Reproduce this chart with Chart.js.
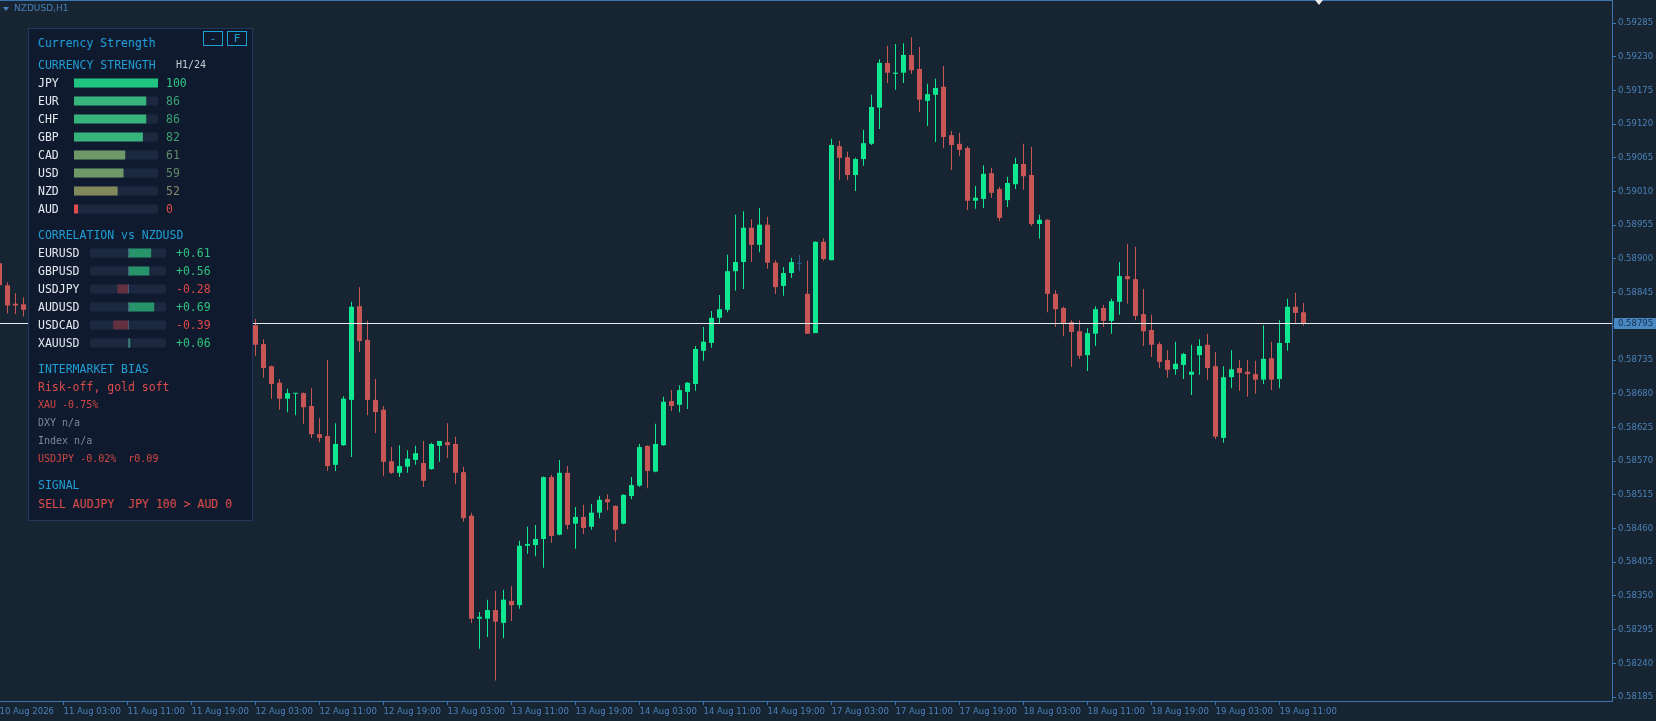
<!DOCTYPE html>
<html>
<head>
<meta charset="utf-8">
<title>NZDUSD,H1</title>
<script src="https://cdn.jsdelivr.net/npm/chart.js@4.4.1/dist/chart.umd.min.js"></script>
<style>
  html, body { margin: 0; padding: 0; background: #172432; overflow: hidden; }
  #wrap { position: relative; width: 1656px; height: 721px; }
  #main { position: absolute; left: 0; top: 0; }
  .hdr { position: absolute; left: 14px; top: 2px; font: 9px 'DejaVu Sans', sans-serif; line-height: 12px; color: #4a80b8; }
  .hdr-tri { position: absolute; left: 3px; top: 7px; width: 0; height: 0;
             border-left: 3px solid transparent; border-right: 3px solid transparent; border-top: 4px solid #4a80b8; }
  .shift { position: absolute; left: 1315px; top: 0; width: 0; height: 0;
           border-left: 4px solid transparent; border-right: 4px solid transparent; border-top: 5px solid #e8eaee; }
  .panel { position: absolute; left: 28px; top: 28px; width: 225px; height: 493px; box-sizing: border-box;
           background: #101a2e; border: 1px solid #22365e; }
  .pt { position: absolute; white-space: pre; font-family: 'DejaVu Sans Mono', monospace; font-size: 11.5px;
        line-height: 14px; height: 14px; }
  .btn { position: absolute; box-sizing: border-box; width: 20px; height: 15px; border: 1px solid #1f9fd4;
         color: #1f9fd4; font: 11px 'DejaVu Sans Mono', monospace; line-height: 13px; text-align: center; }
  .mini { position: absolute; }
</style>
</head>
<body>
<div id="wrap">
  <canvas id="main" width="1656" height="721"></canvas>
  <div class="hdr-tri"></div>
  <div class="hdr">NZDUSD,H1</div>
  <div class="shift"></div>
  <div class="panel"></div>
  <div class="btn" style="left:203px;top:31px;">-</div>
  <div class="btn" style="left:227px;top:31px;">F</div>
  <canvas id="strengthBars" class="mini" width="84" height="144" style="left:74px;top:74px;"></canvas>
  <canvas id="corrBars" class="mini" width="76" height="108" style="left:90px;top:244px;"></canvas>
</div>
<script>
// x axis labels, one every 8 hourly bars (bar 0 = 10 Aug 19:00)
const timeLabels = ['10 Aug 2026', '11 Aug 03:00', '11 Aug 11:00', '11 Aug 19:00', '12 Aug 03:00',
  '12 Aug 11:00', '12 Aug 19:00', '13 Aug 03:00', '13 Aug 11:00', '13 Aug 19:00', '14 Aug 03:00',
  '14 Aug 11:00', '14 Aug 19:00', '17 Aug 03:00', '17 Aug 11:00', '17 Aug 19:00', '18 Aug 03:00',
  '18 Aug 11:00', '18 Aug 19:00', '19 Aug 03:00', '19 Aug 11:00'];

// price axis ticks
const priceTicks = [0.59285, 0.59230, 0.59175, 0.59120, 0.59065, 0.59010, 0.58955, 0.58900, 0.58845,
  0.58790, 0.58735, 0.58680, 0.58625, 0.58570, 0.58515, 0.58460, 0.58405, 0.58350, 0.58295, 0.58240, 0.58185];

// OHLC per hourly bar (bars hidden behind the panel left empty)
const opens = [
  0.58893, 0.58857, 0.58827, 0.58826, null, null, null, null, null, null,
  null, null, null, null, null, null, null, null, null, null,
  null, null, null, null, null, null, null, null, null, null,
  null, null, 0.58792, 0.58761, 0.58725, 0.58698, 0.58672, 0.58680, 0.58681, 0.58660,
  0.58614, 0.58611, 0.58564, 0.58596, 0.58670, 0.58823, 0.58768, 0.58670, 0.58654, 0.58570,
  0.58551, 0.58561, 0.58572, 0.58567, 0.58557, 0.58595, 0.58601, 0.58598, 0.58552, 0.58481,
  0.58313, 0.58313, 0.58327, 0.58306, 0.58342, 0.58335, 0.58432, 0.58433, 0.58443, 0.58544,
  0.58450, 0.58551, 0.58468, 0.58479, 0.58463, 0.58486, 0.58508, 0.58497, 0.58468, 0.58513,
  0.58530, 0.58595, 0.58553, 0.58596, 0.58668, 0.58662, 0.58683, 0.58696, 0.58750, 0.58763,
  0.58804, 0.58817, 0.58880, 0.58895, 0.58951, 0.58923, 0.58956, 0.58894, 0.58856, 0.58877,
  0.58892, 0.58843, 0.58779, 0.58928, 0.58898, 0.59084, 0.59066, 0.59037, 0.59063, 0.59088,
  0.59147, 0.59220, 0.59202, 0.59204, 0.59233, 0.59210, 0.59158, 0.59168, 0.59181, 0.59102,
  0.59088, 0.59081, 0.58995, 0.58998, 0.59040, 0.59014, 0.58996, 0.59022, 0.59055, 0.59037,
  0.58957, 0.58964, 0.58843, 0.58820, 0.58797, 0.58782, 0.58743, 0.58778, 0.58820, 0.58799,
  0.58830, 0.58872, 0.58867, 0.58810, 0.58784, 0.58761, 0.58735, 0.58720, 0.58727, 0.58711,
  0.58743, 0.58760, 0.58725, 0.58608, 0.58707, 0.58722, 0.58716, 0.58712, 0.58703, 0.58738,
  0.58704, 0.58763, 0.58822, 0.58813];
const highs = [
  0.58905, 0.58862, 0.58844, 0.58837, null, null, null, null, null, null,
  null, null, null, null, null, null, null, null, null, null,
  null, null, null, null, null, null, null, null, null, null,
  null, null, 0.58802, 0.58769, 0.58726, 0.58704, 0.58688, 0.58681, 0.58682, 0.58689,
  0.58640, 0.58735, 0.58632, 0.58676, 0.58830, 0.58854, 0.58799, 0.58704, 0.58660, 0.58593,
  0.58596, 0.58588, 0.58595, 0.58603, 0.58600, 0.58603, 0.58632, 0.58610, 0.58561, 0.58486,
  0.58324, 0.58344, 0.58358, 0.58360, 0.58366, 0.58440, 0.58463, 0.58466, 0.58545, 0.58548,
  0.58572, 0.58562, 0.58495, 0.58499, 0.58500, 0.58513, 0.58516, 0.58498, 0.58516, 0.58544,
  0.58598, 0.58596, 0.58631, 0.58675, 0.58686, 0.58694, 0.58699, 0.58758, 0.58789, 0.58815,
  0.58841, 0.58907, 0.58972, 0.58978, 0.58965, 0.58983, 0.58969, 0.58898, 0.58887, 0.58902,
  0.58907, 0.58897, 0.58929, 0.58934, 0.59096, 0.59093, 0.59075, 0.59065, 0.59111, 0.59168,
  0.59226, 0.59248, 0.59251, 0.59252, 0.59262, 0.59246, 0.59186, 0.59194, 0.59215, 0.59109,
  0.59106, 0.59084, 0.59019, 0.59053, 0.59049, 0.59018, 0.59034, 0.59065, 0.59088, 0.59083,
  0.58972, 0.58965, 0.58849, 0.58822, 0.58800, 0.58800, 0.58787, 0.58823, 0.58825, 0.58835,
  0.58895, 0.58925, 0.58920, 0.58851, 0.58809, 0.58765, 0.58751, 0.58765, 0.58747, 0.58760,
  0.58769, 0.58778, 0.58748, 0.58725, 0.58751, 0.58735, 0.58735, 0.58734, 0.58792, 0.58765,
  0.58800, 0.58835, 0.58845, 0.58828];
const lows = [
  0.58850, 0.58811, 0.58810, 0.58806, null, null, null, null, null, null,
  null, null, null, null, null, null, null, null, null, null,
  null, null, null, null, null, null, null, null, null, null,
  null, null, 0.58742, 0.58706, 0.58672, 0.58654, 0.58650, 0.58645, 0.58631, 0.58608,
  0.58601, 0.58554, 0.58554, 0.58595, 0.58577, 0.58748, 0.58645, 0.58616, 0.58546, 0.58549,
  0.58544, 0.58551, 0.58564, 0.58528, 0.58556, 0.58569, 0.58575, 0.58533, 0.58471, 0.58306,
  0.58264, 0.58283, 0.58212, 0.58281, 0.58309, 0.58329, 0.58419, 0.58415, 0.58396, 0.58437,
  0.58449, 0.58459, 0.58427, 0.58451, 0.58458, 0.58477, 0.58490, 0.58438, 0.58467, 0.58508,
  0.58528, 0.58526, 0.58552, 0.58595, 0.58652, 0.58650, 0.58655, 0.58685, 0.58734, 0.58755,
  0.58794, 0.58813, 0.58848, 0.58851, 0.58895, 0.58911, 0.58884, 0.58843, 0.58840, 0.58869,
  0.58880, 0.58778, 0.58779, 0.58897, 0.58898, 0.59029, 0.59029, 0.59011, 0.59052, 0.59086,
  0.59112, 0.59187, 0.59176, 0.59187, 0.59202, 0.59140, 0.59117, 0.59091, 0.59081, 0.59045,
  0.59068, 0.58980, 0.58982, 0.58983, 0.59000, 0.58962, 0.58985, 0.59014, 0.59013, 0.58954,
  0.58933, 0.58813, 0.58789, 0.58774, 0.58724, 0.58737, 0.58717, 0.58758, 0.58789, 0.58778,
  0.58809, 0.58827, 0.58800, 0.58758, 0.58740, 0.58722, 0.58706, 0.58711, 0.58704, 0.58678,
  0.58711, 0.58703, 0.58606, 0.58600, 0.58689, 0.58685, 0.58675, 0.58680, 0.58696, 0.58686,
  0.58689, 0.58750, 0.58796, 0.58791];
const closes = [
  0.58857, 0.58824, 0.58824, 0.58817, null, null, null, null, null, null,
  null, null, null, null, null, null, null, null, null, null,
  null, null, null, null, null, null, null, null, null, null,
  null, null, 0.58760, 0.58722, 0.58696, 0.58672, 0.58681, 0.58681, 0.58658, 0.58614,
  0.58608, 0.58562, 0.58598, 0.58672, 0.58822, 0.58766, 0.58670, 0.58650, 0.58569, 0.58551,
  0.58562, 0.58574, 0.58583, 0.58538, 0.58598, 0.58603, 0.58596, 0.58551, 0.58477, 0.58313,
  0.58316, 0.58327, 0.58308, 0.58344, 0.58335, 0.58432, 0.58435, 0.58443, 0.58544, 0.58448,
  0.58551, 0.58466, 0.58479, 0.58461, 0.58486, 0.58507, 0.58503, 0.58458, 0.58515, 0.58531,
  0.58593, 0.58554, 0.58598, 0.58667, 0.58660, 0.58686, 0.58698, 0.58753, 0.58765, 0.58804,
  0.58818, 0.58880, 0.58895, 0.58951, 0.58923, 0.58956, 0.58894, 0.58854, 0.58877, 0.58895,
  0.58892, 0.58778, 0.58928, 0.58900, 0.59086, 0.59065, 0.59037, 0.59063, 0.59089, 0.59148,
  0.59220, 0.59204, 0.59204, 0.59233, 0.59208, 0.59160, 0.59169, 0.59179, 0.59099, 0.59086,
  0.59078, 0.58995, 0.59000, 0.59039, 0.59008, 0.58967, 0.59024, 0.59055, 0.59035, 0.58957,
  0.58964, 0.58843, 0.58818, 0.58794, 0.58781, 0.58742, 0.58779, 0.58818, 0.58799, 0.58831,
  0.58872, 0.58867, 0.58807, 0.58782, 0.58760, 0.58732, 0.58719, 0.58729, 0.58745, 0.58716,
  0.58758, 0.58722, 0.58610, 0.58707, 0.58720, 0.58714, 0.58712, 0.58703, 0.58737, 0.58703,
  0.58763, 0.58822, 0.58812, 0.58795];

// panel values
const currencies = ['JPY', 'EUR', 'CHF', 'GBP', 'CAD', 'USD', 'NZD', 'AUD'];
const strength = [100, 86, 86, 82, 61, 59, 52, 0];
const corrPairs = ['EURUSD', 'GBPUSD', 'USDJPY', 'AUDUSD', 'USDCAD', 'XAUUSD'];
const corrValues = [0.61, 0.56, -0.28, 0.69, -0.39, 0.06];
const biasLines = ['Risk-off, gold soft', 'XAU -0.75%', 'DXY n/a', 'Index n/a', 'USDJPY -0.02%  r0.09'];
const signalText = 'SELL AUDJPY  JPY 100 > AUD 0';

// colours
const BG_UP = '#0de891', BG_DOWN = '#c95656', BG_DOJI = '#2f5e8c';
const AXIS = '#3b76b2', AXIS_TEXT = '#4b82b9';
const CYAN = '#1f9fd4', WHITE = '#e4e9f0', RED = '#d94d4b', GREY = '#7f8898', TRACK = '#1b2840';
const AXIS_FONT = { family: 'DejaVu Sans', size: 8.5 };

// visible price range / bar slot layout of the window
const Y_MAX = 0.5932264, Y_MIN = 0.5817858;
const X_MIN = 0.0625, X_MAX = 201.5625;

function candleColor(i) {
  if (closes[i] > opens[i]) return BG_UP;
  if (closes[i] < opens[i]) return BG_DOWN;
  return BG_DOJI;
}

function createPriceChart() {
  const wicks = [], bodies = [], colors = [];
  opens.forEach((o, i) => {
    if (o == null) return;
    wicks.push({ x: i, y: [lows[i], highs[i]] });
    bodies.push({ x: i, y: [o, closes[i]] });
    colors.push(candleColor(i));
  });

  const decor = {
    id: 'decor',
    afterDatasetsDraw(chart) {
      const { ctx, chartArea: a, scales: { y } } = chart;
      const py = Math.round(y.getPixelForValue(closes[closes.length - 1])) + 0.5;
      ctx.save();
      ctx.lineWidth = 1;
      ctx.strokeStyle = '#e6e9ee';
      ctx.beginPath(); ctx.moveTo(a.left, py); ctx.lineTo(a.right, py); ctx.stroke();
      ctx.strokeStyle = AXIS;
      ctx.beginPath(); ctx.moveTo(0, 0.5); ctx.lineTo(a.right, 0.5); ctx.stroke();
      ctx.restore();
    },
    afterDraw(chart) {
      const { ctx, chartArea: a, scales: { y } } = chart;
      const last = closes[closes.length - 1];
      const py = Math.round(y.getPixelForValue(last));
      ctx.save();
      ctx.fillStyle = '#4a88c4';
      ctx.fillRect(a.right + 2, py - 5, 42, 11);
      ctx.fillStyle = '#17304f';
      ctx.font = '8.5px "DejaVu Sans"';
      ctx.textBaseline = 'middle';
      ctx.fillText(last.toFixed(5), a.right + 6, py + 0.5);
      ctx.restore();
    }
  };

  new Chart(document.getElementById('main'), {
    type: 'bar',
    data: {
      datasets: [
        { data: bodies, backgroundColor: colors, barThickness: 5, grouped: false, order: 0,
          minBarLength: 1, inflateAmount: 0, borderWidth: 0 },
        { data: wicks, backgroundColor: colors, barThickness: 1, grouped: false, order: 1,
          inflateAmount: 0, borderWidth: 0 }
      ]
    },
    options: {
      responsive: false,
      animation: false,
      events: [],
      layout: { padding: 0 },
      plugins: { legend: { display: false }, tooltip: { enabled: false } },
      scales: {
        x: {
          type: 'linear', min: X_MIN, max: X_MAX, bounds: 'data', offset: false,
          afterBuildTicks: s => { s.ticks = timeLabels.map((_, k) => ({ value: k * 8 })); },
          afterFit: s => { s.height = 20; s.paddingLeft = 0; s.paddingRight = 0; },
          ticks: { callback: v => timeLabels[v / 8] || '', align: 'start', autoSkip: false, maxRotation: 0,
                   color: AXIS_TEXT, font: AXIS_FONT, padding: 2 },
          grid: { offset: false, drawOnChartArea: false, tickLength: 4, color: AXIS },
          border: { display: true, color: AXIS, width: 1 }
        },
        y: {
          position: 'right', min: Y_MIN, max: Y_MAX, bounds: 'data', beginAtZero: false,
          afterBuildTicks: s => { s.ticks = priceTicks.map(v => ({ value: v })); },
          afterFit: s => { s.width = 44; s.paddingTop = 0; s.paddingBottom = 0; },
          ticks: { callback: v => v.toFixed(5), color: AXIS_TEXT, font: AXIS_FONT, padding: 2 },
          grid: { drawOnChartArea: false, tickLength: 4, color: AXIS },
          border: { display: true, color: AXIS, width: 1 }
        }
      }
    },
    plugins: [decor]
  });
}

function strengthColor(v) {
  if (v >= 95) return '#1ec47f';
  if (v >= 80) return '#37b37c';
  if (v >= 55) return '#6e9a6a';
  if (v >= 40) return '#80885c';
  return '#e04a4a';
}
function strengthTextColor(v) {
  if (v >= 95) return '#2cc985';
  if (v >= 80) return '#3aa271';
  if (v >= 55) return '#5f8c66';
  if (v >= 40) return '#868c6a';
  return '#e04a4a';
}

const miniOptions = (xMin, xMax) => ({
  indexAxis: 'y', responsive: false, animation: false, events: [],
  layout: { padding: 0 },
  plugins: { legend: { display: false }, tooltip: { enabled: false } },
  scales: { x: { display: false, min: xMin, max: xMax }, y: { display: false } }
});

function createStrengthBars() {
  new Chart(document.getElementById('strengthBars'), {
    type: 'bar',
    data: {
      labels: currencies,
      datasets: [
        { data: strength, backgroundColor: strength.map(strengthColor), barThickness: 9, grouped: false,
          minBarLength: 4, order: 0, inflateAmount: 0 },
        { data: currencies.map(() => 100), backgroundColor: TRACK, barThickness: 9, grouped: false,
          order: 1, inflateAmount: 0 }
      ]
    },
    options: miniOptions(0, 100)
  });
}

function createCorrBars() {
  const centerLine = {
    id: 'centerLine',
    afterDatasetsDraw(chart) {
      const { ctx } = chart;
      const x0 = Math.round(chart.scales.x.getPixelForValue(0)) + 0.5;
      ctx.save();
      ctx.strokeStyle = '#4a5b7c';
      ctx.lineWidth = 1;
      ctx.beginPath();
      chart.getDatasetMeta(1).data.forEach(bar => {
        ctx.moveTo(x0, bar.y - bar.height / 2);
        ctx.lineTo(x0, bar.y + bar.height / 2);
      });
      ctx.stroke();
      ctx.restore();
    }
  };
  new Chart(document.getElementById('corrBars'), {
    type: 'bar',
    data: {
      labels: corrPairs,
      datasets: [
        { data: corrValues, backgroundColor: corrValues.map(v => v >= 0 ? '#27936a' : '#62303f'),
          barThickness: 9, grouped: false, order: 0, inflateAmount: 0 },
        { data: corrPairs.map(() => [-1, 1]), backgroundColor: TRACK, barThickness: 9, grouped: false,
          order: 1, inflateAmount: 0 }
      ]
    },
    options: miniOptions(-1, 1),
    plugins: [centerLine]
  });
}

// panel texts
function addText(str, x, yc, color, size) {
  const d = document.createElement('div');
  d.className = 'pt';
  d.textContent = str;
  d.style.left = x + 'px';
  d.style.top = (yc - 7) + 'px';
  d.style.color = color;
  if (size) d.style.fontSize = size + 'px';
  document.getElementById('wrap').appendChild(d);
}

function renderPanel() {
  addText('Currency Strength', 38, 43, CYAN);
  addText('CURRENCY STRENGTH', 38, 65, CYAN);
  addText('H1/24', 176, 64.5, '#c5ccd6', 10);
  currencies.forEach((c, k) => {
    const yc = 83 + 18 * k;
    addText(c, 38, yc, WHITE);
    addText(String(strength[k]), 166, yc, strengthTextColor(strength[k]));
  });
  addText('CORRELATION vs NZDUSD', 38, 235, CYAN);
  corrPairs.forEach((p, k) => {
    const yc = 253 + 18 * k;
    const v = corrValues[k];
    addText(p, 38, yc, WHITE);
    addText((v >= 0 ? '+' : '-') + Math.abs(v).toFixed(2), 176, yc, v >= 0 ? '#2ec27e' : '#e04848');
  });
  addText('INTERMARKET BIAS', 38, 369, CYAN);
  addText(biasLines[0], 38, 387, RED);
  addText(biasLines[1], 38, 404.5, '#cf4744', 10);
  addText(biasLines[2], 38, 422.5, GREY, 10);
  addText(biasLines[3], 38, 440.5, GREY, 10);
  addText(biasLines[4], 38, 458.5, '#cf4744', 10);
  addText('SIGNAL', 38, 485, CYAN);
  addText(signalText, 38, 504, RED);
}

document.addEventListener('DOMContentLoaded', () => {
  createPriceChart();
  createStrengthBars();
  createCorrBars();
  renderPanel();
});
</script>
</body>
</html>
